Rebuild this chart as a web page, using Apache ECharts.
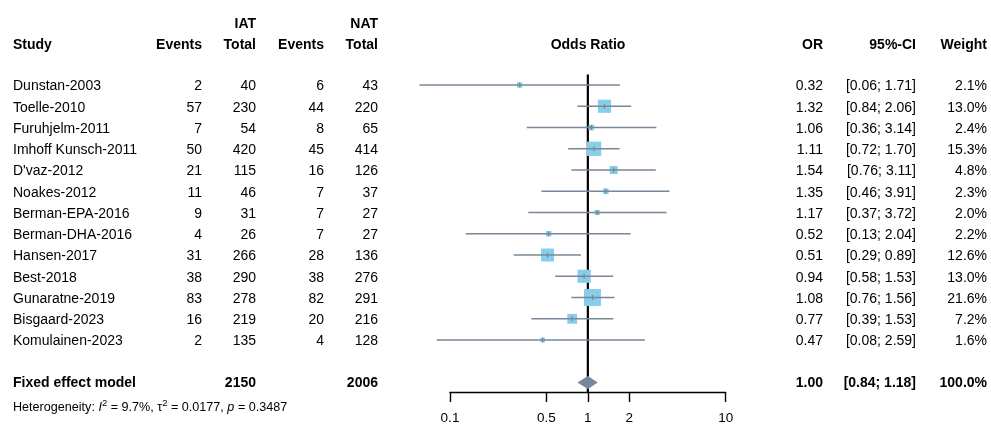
<!DOCTYPE html>
<html>
<head>
<meta charset="utf-8">
<script src="https://cdn.jsdelivr.net/npm/echarts@6/dist/echarts.min.js"></script>
<style>html,body{margin:0;padding:0;background:#fff}#c{width:991px;height:424px}</style>
</head>
<body>
<div id="c"></div>
<script>
const studies = ["Dunstan-2003","Toelle-2010","Furuhjelm-2011","Imhoff Kunsch-2011","D'vaz-2012","Noakes-2012","Berman-EPA-2016","Berman-DHA-2016","Hansen-2017","Best-2018","Gunaratne-2019","Bisgaard-2023","Komulainen-2023"];
const iatEvents = [2,57,7,50,21,11,9,4,31,38,83,16,2];
const iatTotal  = [40,230,54,420,115,46,31,26,266,290,278,219,135];
const natEvents = [6,44,8,45,16,7,7,7,28,38,82,20,4];
const natTotal  = [43,220,65,414,126,37,27,27,136,276,291,216,128];
const oddsRatio = [0.32,1.32,1.06,1.11,1.54,1.35,1.17,0.52,0.51,0.94,1.08,0.77,0.47];
const ciLower   = [0.06,0.84,0.36,0.72,0.76,0.46,0.37,0.13,0.29,0.58,0.76,0.39,0.08];
const ciUpper   = [1.71,2.06,3.14,1.70,3.11,3.91,3.72,2.04,0.89,1.53,1.56,1.53,2.59];
const weights   = [2.1,13.0,2.4,15.3,4.8,2.3,2.0,2.2,12.6,13.0,21.6,7.2,1.6];
const fixedOR = 1.00, fixedLower = 0.84, fixedUpper = 1.18, fixedWeight = 100.0;
const fixedIatTotal = 2150, fixedNatTotal = 2006;
const xTickValues = [0.1, 0.5, 1, 2, 10];
const heterogeneity = {I2: "9.7%", tau2: "0.0177", p: "0.3487"};

const FONT = "'Liberation Sans', Arial, sans-serif";
const FS = 14;
const sqColor = "#87CEEB";
const lineColor = "#778899";
const lg = v => Math.log10(v);
const fixedRow = studies.length + 1;

// column layout (pixel x, alignment)
const cols = {
  study: [13, 'left'], iatEv: [202, 'right'], iatTot: [256, 'right'],
  natEv: [324, 'right'], natTot: [378, 'right'], or: [823, 'right'],
  ci: [916, 'right'], w: [987, 'right'], plot: [588, 'center']
};
const cells = [];
function cell(row, col, text, bold, dy) { cells.push({row, col, text: String(text), bold: !!bold, dy: dy || 0}); }
// headers
cell(-2.93, 'iatTot', 'IAT', true, 1);
cell(-2.93, 'natTot', 'NAT', true, 1);
[['study','Study'],['iatEv','Events'],['iatTot','Total'],['natEv','Events'],['natTot','Total'],['plot','Odds Ratio'],['or','OR'],['ci','95%-CI'],['w','Weight']]
  .forEach(([c, t]) => cell(-1.93, c, t, true, 1));
studies.forEach((s, i) => {
  cell(i, 'study', s, false, 1.5);
  cell(i, 'iatEv', iatEvents[i], false, 1.5);
  cell(i, 'iatTot', iatTotal[i], false, 1.5);
  cell(i, 'natEv', natEvents[i], false, 1.5);
  cell(i, 'natTot', natTotal[i], false, 1.5);
  cell(i, 'or', oddsRatio[i].toFixed(2), false, 1.5);
  cell(i, 'ci', '[' + ciLower[i].toFixed(2) + '; ' + ciUpper[i].toFixed(2) + ']', false, 1.5);
  cell(i, 'w', weights[i].toFixed(1) + '%', false, 1.5);
});
cell(fixedRow, 'study', 'Fixed effect model', true, 1);
cell(fixedRow, 'iatTot', fixedIatTotal, true, 1);
cell(fixedRow, 'natTot', fixedNatTotal, true, 1);
cell(fixedRow, 'or', fixedOR.toFixed(2), true, 1);
cell(fixedRow, 'ci', '[' + fixedLower.toFixed(2) + '; ' + fixedUpper.toFixed(2) + ']', true, 1);
cell(fixedRow, 'w', fixedWeight.toFixed(1) + '%', true, 1);

const chart = echarts.init(document.getElementById('c'), null, {renderer: 'canvas'});
const option = {
  animation: false,
  backgroundColor: '#fff',
  grid: {left: 450, right: 265.3, top: 74.4, bottom: 31.9, containLabel: false, outerBoundsMode: 'none'},
  xAxis: {
    type: 'value', min: -1, max: 1,
    splitLine: {show: false},
    axisLine: {show: true, onZero: false, lineStyle: {color: '#000', width: 1.4}},
    axisTick: {show: true, length: 10, lineStyle: {color: '#000', width: 1.4}, customValues: xTickValues.map(lg)},
    axisLabel: {show: true, margin: 19, color: '#000', fontFamily: FONT, fontSize: 13.5,
      customValues: xTickValues.map(lg),
      formatter: v => String(+Math.pow(10, v).toPrecision(3))}
  },
  yAxis: {type: 'value', inverse: true, min: -0.5, max: 14.45, show: false},
  series: [
    {
      type: 'custom', name: 'null', z: 1,
      data: [[0, -0.5, 14.45]],
      renderItem(params, api) {
        const a = api.coord([api.value(0), api.value(1)]);
        const b = api.coord([api.value(0), api.value(2)]);
        return {type: 'line', shape: {x1: a[0], y1: a[1], x2: b[0], y2: b[1]}, style: {stroke: '#000', lineWidth: 2.2}};
      }
    },
    {
      type: 'custom', name: 'studies', z: 2,
      data: studies.map((s, i) => [lg(oddsRatio[i]), i, lg(ciLower[i]), lg(ciUpper[i]), weights[i]]),
      renderItem(params, api) {
        const c = api.coord([api.value(0), api.value(1)]);
        const lo = api.coord([api.value(2), api.value(1)]);
        const hi = api.coord([api.value(3), api.value(1)]);
        const s = 3.66 * Math.sqrt(api.value(4));
        return {type: 'group', children: [
          {type: 'rect', shape: {x: c[0] - s / 2, y: c[1] - s / 2, width: s, height: s}, style: {fill: sqColor}},
          {type: 'line', shape: {x1: lo[0], y1: lo[1], x2: hi[0], y2: hi[1]}, style: {stroke: lineColor, lineWidth: 1.6}},
          {type: 'line', shape: {x1: c[0], y1: c[1] - 2.5, x2: c[0], y2: c[1] + 2.5}, style: {stroke: lineColor, lineWidth: 1.2}}
        ]};
      }
    },
    {
      type: 'custom', name: 'fixed', z: 3,
      data: [[lg(fixedOR), fixedRow, lg(fixedLower), lg(fixedUpper)]],
      renderItem(params, api) {
        const c = api.coord([api.value(0), api.value(1)]);
        const lo = api.coord([api.value(2), api.value(1)]);
        const hi = api.coord([api.value(3), api.value(1)]);
        const h = 6.5;
        return {type: 'polygon', shape: {points: [[lo[0], c[1]], [c[0], c[1] - h], [hi[0], c[1]], [c[0], c[1] + h]]},
          style: {fill: lineColor}};
      }
    },
    {
      type: 'custom', name: 'table', z: 4,
      data: cells.map(c => [0, c.row]),
      renderItem(params, api) {
        const cl = cells[params.dataIndex];
        const y = api.coord([0, api.value(1)])[1] + cl.dy;
        const col = cols[cl.col];
        return {type: 'text', x: col[0], y: y, style: {
          text: cl.text, fill: '#000',
          font: (cl.bold ? 'bold ' : '') + FS + 'px ' + FONT,
          textAlign: col[1], align: col[1], textVerticalAlign: 'middle', verticalAlign: 'middle'}};
      }
    },
    {
      type: 'custom', name: 'heterogeneity', z: 4,
      data: [[0, fixedRow + 1.12]],
      renderItem(params, api) {
        const y = api.coord([0, api.value(1)])[1];
        const base = {fontFamily: FONT, fontSize: 12.6, color: '#000', lineHeight: 16, verticalAlign: 'bottom'};
        return {type: 'text', x: 13, y: y, style: {
          text: '{a|Heterogeneity: }{i|I}{s|2}{a| = ' + heterogeneity.I2 + ', \u03c4}{s|2}{a| = ' + heterogeneity.tau2 + ', }{i|p}{a| = ' + heterogeneity.p + '}',
          textAlign: 'left', align: 'left', textVerticalAlign: 'middle', verticalAlign: 'middle',
          rich: {
            a: base,
            i: Object.assign({}, base, {fontStyle: 'italic'}),
            s: {fontFamily: FONT, fontSize: 9.5, color: '#000', lineHeight: 16, verticalAlign: 'top'}
          }}};
      }
    }
  ]
};
chart.setOption(option);
</script>
</body>
</html>
